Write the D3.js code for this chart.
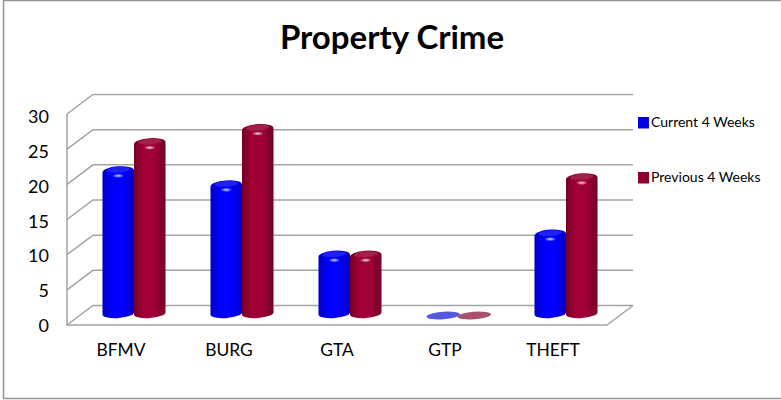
<!DOCTYPE html>
<html>
<head>
<meta charset="utf-8">
<script src="https://cdn.jsdelivr.net/npm/d3@7"></script>
<style>
  html, body { margin: 0; padding: 0; background: #fff; }
  svg { display: block; }
  text { font-family: Lato, "Open Sans", sans-serif; fill: #000; }
</style>
</head>
<body>
<svg width="781" height="400"></svg>
<script>
var categories = ["BFMV", "BURG", "GTA", "GTP", "THEFT"];
var current_weeks = [21, 19, 9, 0, 12];
var previous_weeks = [25, 27, 9, 0, 20];
var y_ticks = [0, 5, 10, 15, 20, 25, 30];
var series_names = ["Current 4 Weeks", "Previous 4 Weeks"];

var depth_x = 26, depth_y = -19.5; // offset from front of the box to the back wall
var svg = d3.select("svg");

// border of the chart area, it runs off the right edge of the picture
svg.append("path")
   .attr("d", "M781,0.5H3.5V398.5H781")
   .attr("fill", "none").attr("stroke", "#969696").attr("stroke-width", 1.5);

svg.append("text")
   .attr("x", 392).attr("y", 49)
   .attr("text-anchor", "middle")
   .style("font-size", "33px").style("font-weight", "700")
   .text("Property Crime");

var x = d3.scaleBand().domain(categories).range([67, 607]);
var y = d3.scaleLinear().domain([0, 30]).range([325, 114]);
var y_label = d3.scaleLinear().domain([0, 30]).range([325, 116.5]);

var defs = svg.append("defs");
function cylinder_gradient(id, edge, mid) {
	var g = defs.append("linearGradient").attr("id", id);
	[[0, edge], [0.3, mid], [0.65, mid], [1, edge]].forEach(function (s) {
		g.append("stop").attr("offset", s[0]).attr("stop-color", s[1]);
	});
}
cylinder_gradient("blue_body", "#0000c4", "#0000ff");
cylinder_gradient("red_body", "#730028", "#a00034");

var glow = defs.append("radialGradient").attr("id", "glow");
glow.append("stop").attr("offset", 0).attr("stop-color", "#fff").attr("stop-opacity", 0.85);
glow.append("stop").attr("offset", 1).attr("stop-color", "#fff").attr("stop-opacity", 0);

// walls and gridlines
var grid_color = "#a3a3a3";
var walls = svg.append("g").attr("fill", "none").attr("stroke", grid_color).attr("stroke-width", 1.5);
walls.selectAll("path.grid")
     .data(y_ticks)
     .enter().append("path")
     .attr("class", "grid")
     .attr("d", function (d) {
     	return "M67," + y(d) + "L" + (67 + depth_x) + "," + (y(d) + depth_y) + "H" + (607 + depth_x);
     });
walls.append("path").attr("d", "M67," + y(30) + "V" + y(0) + "H607L" + (607 + depth_x) + "," + (y(0) + depth_y));

// value and category labels
var y_axis = svg.append("g")
   .attr("transform", "translate(67,0)")
   .call(d3.axisLeft(y_label).tickValues(y_ticks).tickSize(0).tickPadding(18));
y_axis.select(".domain").remove();
y_axis.selectAll("text").style("font-size", "18px").attr("dy", "0.36em");

var x_axis = svg.append("g")
   .attr("transform", "translate(0,326)")
   .call(d3.axisBottom(x).tickSize(0).tickPadding(18));
x_axis.select(".domain").remove();
x_axis.selectAll("text").style("font-size", "17.4px");

// bars stand half way into the box
var bar_w = 31.5, ry = 5, rot = -4, tilt = 1.2;
var base_dx = depth_x / 2, base_dy = -11.5, top_dy = -6;

var rows = [];
categories.forEach(function (c, i) {
	rows.push({cat: c, value: current_weeks[i], side: 0, name: "blue"});
	rows.push({cat: c, value: previous_weeks[i], side: 1, name: "red"});
});

function bar_left(d) {
	return x(d.cat) + x.bandwidth() / 2 + base_dx - bar_w + d.side * bar_w;
}

var zero_fill = {blue: "#5656de", red: "#a8506c"};
var top_fill = {blue: "#2020f4", red: "#a02048"};

var bars = svg.selectAll("g.bar")
   .data(rows)
   .enter().append("g")
   .attr("class", "bar");

bars.filter(function (d) { return d.value > 0; })
    .append("path")
    .attr("fill", function (d) { return "url(#" + d.name + "_body)"; })
    .attr("d", function (d) {
    	var l = bar_left(d), r = l + bar_w, b = y(0) + base_dy, t = y(d.value) + top_dy;
    	return "M" + l + "," + (t + tilt) + "A" + bar_w / 2 + "," + ry + " " + rot + " 0 1 " + r + "," + (t - tilt) +
    	       "V" + (b - tilt) + "A" + bar_w / 2 + "," + 4.5 + " " + rot + " 0 1 " + l + "," + (b + tilt) + "Z";
    });

bars.filter(function (d) { return d.value > 0; })
    .append("ellipse")
    .attr("rx", bar_w / 2 - 4).attr("ry", 2.8)
    .attr("fill", function (d) { return top_fill[d.name]; })
    .attr("transform", function (d) {
    	return "translate(" + (bar_left(d) + bar_w / 2) + "," + (y(d.value) + top_dy - 1.5) + ") rotate(" + rot + ")";
    });

bars.filter(function (d) { return d.value > 0; })
    .append("ellipse")
    .attr("rx", 6).attr("ry", 2.2)
    .attr("fill", "url(#glow)")
    .attr("transform", function (d) {
    	return "translate(" + (bar_left(d) + bar_w / 2) + "," + (y(d.value) + top_dy + 4.5) + ")";
    });

// empty values leave only a flat disc on the floor
bars.filter(function (d) { return d.value === 0; })
    .append("ellipse")
    .attr("rx", bar_w / 2 + 1).attr("ry", 3.8)
    .attr("fill", function (d) { return zero_fill[d.name]; })
    .attr("transform", function (d) {
    	return "translate(" + (bar_left(d) + bar_w / 2 + 1 - d.side * 0.5) + "," + (y(0) + base_dy + 2) + ") rotate(" + rot + ")";
    });

// legend
var legend_y = d3.scalePoint().domain(series_names).range([122.5, 177.5]);
var legend = svg.selectAll("g.legend")
   .data(series_names)
   .enter().append("g")
   .attr("class", "legend")
   .attr("transform", function (d) { return "translate(638," + legend_y(d) + ")"; });
legend.append("rect")
   .attr("x", 0).attr("y", -5.5).attr("width", 11).attr("height", 11.5)
   .attr("fill", function (d, i) { return i === 0 ? "#0000e0" : "#8e0030"; });
legend.append("text")
   .attr("x", 13).attr("y", 4.5)
   .style("font-size", "14px")
   .text(function (d) { return d; });
</script>
</body>
</html>
